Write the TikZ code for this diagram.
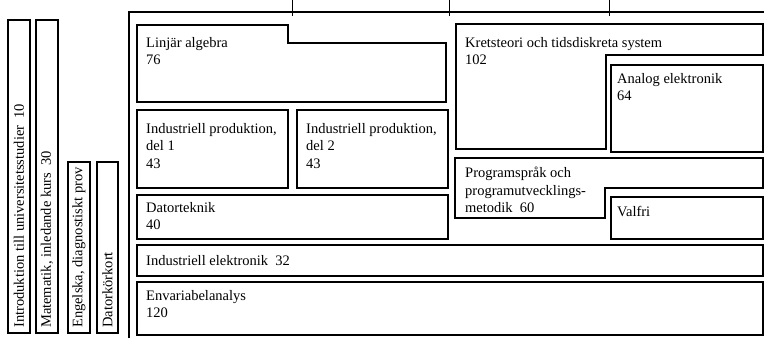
\documentclass[tikz,border=0pt]{standalone}
\usepackage{fontspec}
\setmainfont{Liberation Serif}
\begin{document}
\begin{tikzpicture}[x=1pt,y=-1pt,line join=miter,
  box/.style={line width=1.7pt},
  txt/.style={anchor=north west,align=left,inner sep=0pt,font=\fontsize{14.5}{17.5}\selectfont},
  vtxt/.style={rotate=90,anchor=west,inner sep=0pt,font=\fontsize{14.5}{17}\selectfont}]
\useasboundingbox (0,0) rectangle (764,338);
% frame with ticks
\draw[box] (129,338)--(129,12)--(764,12);
\foreach \x in {292,449,609} \draw[line width=1pt] (\x,0)--(\x,16);
% left column
\draw[box] (8,20) rectangle (30,333);
\draw[box] (36,20) rectangle (58,333);
\draw[box] (68,162) rectangle (90,333);
\draw[box] (97,162) rectangle (118,333);
\node[vtxt] (intro) at (19,328) {Introduktion till universitetsstudier\ \ 10};
\node[vtxt] (matte) at (47,328) {Matematik, inledande kurs\ \ 30};
\node[vtxt] (eng) at (79,328) {Engelska, diagnostiskt prov};
\node[vtxt] (dkort) at (107.5,328) {Datorkörkort};
% courses
\draw[box] (137,25)--(288,25)--(288,43)--(446,43)--(446,102)--(137,102)--cycle;
\node[txt] (linalg) at (146,37) {Linjär algebra\\76};
\draw[box] (456,24)--(763,24)--(763,55)--(606,55)--(606,149)--(456,149)--cycle;
\node[txt] (krets) at (465,37) {Kretsteori och tidsdiskreta system\\102};
\draw[box] (611,65) rectangle (763,152);
\node[txt] (analog) at (617,73) {Analog elektronik\\64};
\draw[box] (137,110) rectangle (288,188);
\node[txt] (indprodA) at (146,123) {Industriell produktion,\\del 1\\43};
\draw[box] (297,110) rectangle (448,188);
\node[txt] (indprodB) at (306,123) {Industriell produktion,\\del 2\\43};
\draw[box] (455,158)--(763,158)--(763,188)--(605,188)--(605,218)--(455,218)--cycle;
\node[txt] (prog) at (465,167) {Programspråk och\\programutvecklings-\\metodik\ \ 60};
\draw[box] (611,197) rectangle (763,239);
\node[txt] (valfri) at (617,206) {Valfri};
\draw[box] (137,195) rectangle (448,239);
\node[txt] (dtek) at (146,202) {Datorteknik\\40};
\draw[box] (137,245) rectangle (763,276);
\node[txt] (indel) at (146,255) {Industriell elektronik\ \ 32};
\draw[box] (137,282) rectangle (763,335);
\node[txt] (envar) at (146,290) {Envariabelanalys\\120};
\end{tikzpicture}
\end{document}
